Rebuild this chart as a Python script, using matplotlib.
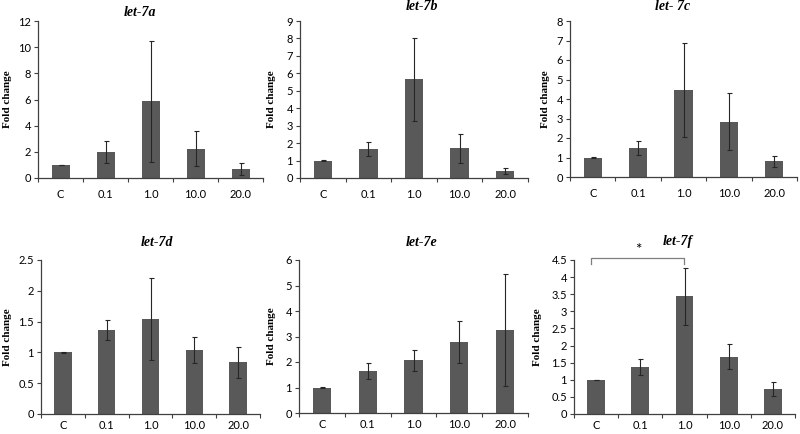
import matplotlib
matplotlib.use("Agg")
import matplotlib.pyplot as plt
import numpy as np

categories = ["C", "0.1", "1.0", "10.0", "20.0"]

titles = ["let-7a", "let-7b", "let- 7c", "let-7d", "let-7e", "let-7f"]

let7a_mean = [1.0, 2.0, 5.87, 2.23, 0.69]
let7a_err = [0.03, 0.82, 4.62, 1.35, 0.45]
let7b_mean = [1.0, 1.67, 5.66, 1.71, 0.40]
let7b_err = [0.03, 0.40, 2.38, 0.84, 0.17]
let7c_mean = [1.0, 1.51, 4.46, 2.84, 0.80]
let7c_err = [0.02, 0.36, 2.42, 1.48, 0.29]
let7d_mean = [1.0, 1.36, 1.54, 1.04, 0.84]
let7d_err = [0.005, 0.16, 0.67, 0.21, 0.25]
let7e_mean = [1.0, 1.65, 2.07, 2.78, 3.26]
let7e_err = [0.02, 0.33, 0.42, 0.82, 2.19]
let7f_mean = [1.0, 1.37, 3.44, 1.68, 0.73]
let7f_err = [0.005, 0.23, 0.83, 0.36, 0.20]

ymax = [12, 9, 8, 2.5, 6, 4.5]
ystep = [2, 1, 1, 0.5, 1, 0.5]

means = [let7a_mean, let7b_mean, let7c_mean, let7d_mean, let7e_mean, let7f_mean]
errs = [let7a_err, let7b_err, let7c_err, let7d_err, let7e_err, let7f_err]

W, H = 800, 434
fig = plt.figure(figsize=(8, 4.34), dpi=100)

# axes boxes in pixels: left, right, top, bottom
boxes = [
    (38, 263, 21, 178),
    (300, 528, 21, 178),
    (570, 797, 21, 177),
    (41, 260, 260, 414),
    (299, 528, 260, 413),
    (574, 795, 260, 414),
]
title_pos = [(140, 12), (422, 7), (673, 6), (157, 242), (422, 242), (678, 242)]
ylabel_x = [7, 272, 545, 7, 272, 538]
xpad = [8, 8, 8, 4.5, 4.5, 4.5]

bar_color = "#595959"
tick_font = "Lato"
serif = "Liberation Serif"

for i in range(6):
    l, r, t, b = boxes[i]
    ax = fig.add_axes([l / W, 1 - b / H, (r - l) / W, (b - t) / H])
    x = np.arange(len(categories))
    ax.bar(x, means[i], width=0.4, color=bar_color, zorder=2)
    ax.errorbar(x, means[i], yerr=errs[i], fmt="none", ecolor="#262626",
                elinewidth=0.8, capsize=1.8, capthick=0.8, zorder=3)
    ax.set_xlim(-0.5, 4.5)
    ax.set_ylim(0, ymax[i])
    yt = np.arange(0, ymax[i] + ystep[i] / 2, ystep[i])
    ax.set_yticks(yt)
    ax.set_yticklabels([("%g" % v) for v in yt], fontfamily=tick_font, fontsize=8)
    ax.set_xticks(np.arange(-0.5, 4.6, 1.0))
    ax.set_xticklabels([])
    ax.set_xticks(x, minor=True)
    ax.set_xticklabels(categories, minor=True, fontfamily=tick_font, fontsize=8)
    ax.tick_params(axis="x", which="minor", length=0, pad=xpad[i])
    ax.tick_params(axis="x", which="major", length=3, width=0.8, direction="out", color="#404040")
    ax.tick_params(axis="y", length=3, width=0.8, direction="out", color="#404040", pad=2)
    for s in ["top", "right"]:
        ax.spines[s].set_visible(False)
    for s in ["left", "bottom"]:
        ax.spines[s].set_color("#404040")
        ax.spines[s].set_linewidth(0.9)
    ax.patch.set_alpha(0)
    tx, ty = title_pos[i]
    fig.text(tx / W, 1 - ty / H, titles[i], ha="center", va="center",
             fontfamily=serif, fontstyle="italic", fontweight="bold", fontsize=10)
    fig.text(ylabel_x[i] / W, 1 - ((t + b) / 2) / H, "Fold change", rotation=90,
             ha="center", va="center", fontfamily=serif, fontweight="bold", fontsize=8)
    if i == 5:
        by = 4.56
        ax.plot([-0.12, -0.12, 1.98, 1.98], [by - 0.17, by, by, by - 0.17],
                color="#7f7f7f", lw=0.9, clip_on=False)
        ax.text(0.95, by + 0.02, "*", ha="center", va="bottom", fontsize=11,
                fontfamily=tick_font, clip_on=False)

fig.savefig("out.png", dpi=100)
